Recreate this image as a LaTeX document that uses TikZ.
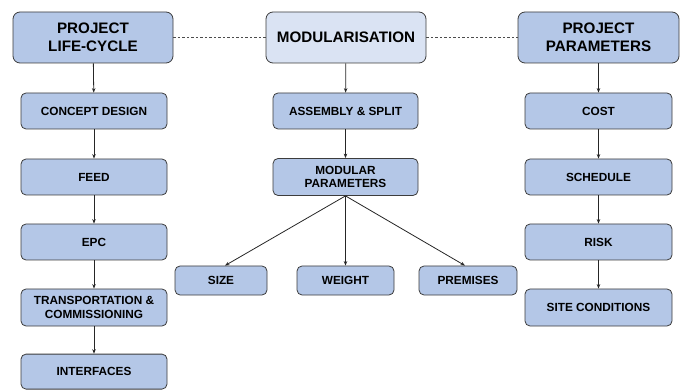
\documentclass[tikz,border=0pt]{standalone}
\usepackage{fontspec}
\setmainfont{Liberation Sans}
\usetikzlibrary{arrows.meta}
\definecolor{boxfill}{HTML}{B4C7E7}
\definecolor{modfill}{HTML}{DAE3F3}
\definecolor{boxline}{HTML}{3C3C3C}
\tikzset{
  base/.style={draw=boxline, line width=0.8pt, align=center, inner sep=0pt, font=\bfseries},
  titlebox/.style={base, fill=boxfill, rounded corners=7pt, minimum width=160pt, minimum height=51pt, font=\fontsize{15.2}{18}\selectfont\bfseries},
  smallbox/.style={base, fill=boxfill, rounded corners=5pt, minimum width=146pt, minimum height=36pt, font=\fontsize{11.8}{13.5}\selectfont\bfseries},
  leafbox/.style={smallbox, minimum height=29pt},
  arr/.style={-{Stealth[length=4.5pt,width=3.5pt]}, line width=0.8pt, draw=black!85},
  dashlink/.style={line width=0.6pt, draw=black!70, dash pattern=on 2.5pt off 2pt}
}
\begin{document}
\begin{tikzpicture}[x=1pt,y=-1pt]
\useasboundingbox (0,0) rectangle (683,390);
% titles
\node[titlebox] (plc) at (93,37.5) {PROJECT\\LIFE-CYCLE};
\node[titlebox, fill=modfill] (mod) at (346,37.5) {MODULARISATION};
\node[titlebox, minimum width=161pt] (ppar) at (598.5,37.5) {PROJECT\\PARAMETERS};
% left column
\node[smallbox] (cd) at (94,111) {CONCEPT DESIGN};
\node[smallbox] (feed) at (94,177) {FEED};
\node[smallbox] (epc) at (94,242) {EPC};
\node[smallbox, minimum height=37pt] (trans) at (94,307.5) {TRANSPORTATION \&\\COMMISSIONING};
\node[smallbox, minimum height=35pt] (intf) at (94,371.6) {INTERFACES};
% middle column
\node[smallbox, minimum width=145pt] (asm) at (345.5,111) {ASSEMBLY \& SPLIT};
\node[smallbox, minimum width=145pt, minimum height=37pt] (mpar) at (345.5,177) {MODULAR\\PARAMETERS};
\node[leafbox, minimum width=92pt] (size) at (221,280.5) {SIZE};
\node[leafbox, minimum width=97pt] (weight) at (345.5,280.5) {WEIGHT};
\node[leafbox, minimum width=98pt] (prem) at (468,280.5) {PREMISES};
% right column
\node[smallbox, minimum width=147pt] (cost) at (598.5,111) {COST};
\node[smallbox, minimum width=147pt] (sched) at (598.5,177) {SCHEDULE};
\node[smallbox, minimum width=147pt] (risk) at (598.5,242) {RISK};
\node[smallbox, minimum width=147pt, minimum height=37pt] (site) at (598.5,307.5) {SITE CONDITIONS};
% dashed links
\draw[dashlink] (plc.east) -- (mod.west);
\draw[dashlink] (mod.east) -- (ppar.west);
% arrows
\draw[arr] (plc) -- (cd);
\draw[arr] (cd) -- (feed);
\draw[arr] (feed) -- (epc);
\draw[arr] (epc) -- (trans);
\draw[arr] (trans) -- (intf);
\draw[arr] (mod) -- (asm);
\draw[arr] (asm) -- (mpar);
\draw[arr] (mpar.south) -- ([xshift=4pt]size.north);
\draw[arr] (mpar.south) -- (weight.north);
\draw[arr] (mpar.south) -- ([xshift=-3pt]prem.north);
\draw[arr] (ppar) -- (cost);
\draw[arr] (cost) -- (sched);
\draw[arr] (sched) -- (risk);
\draw[arr] (risk) -- (site);
\end{tikzpicture}
\end{document}
